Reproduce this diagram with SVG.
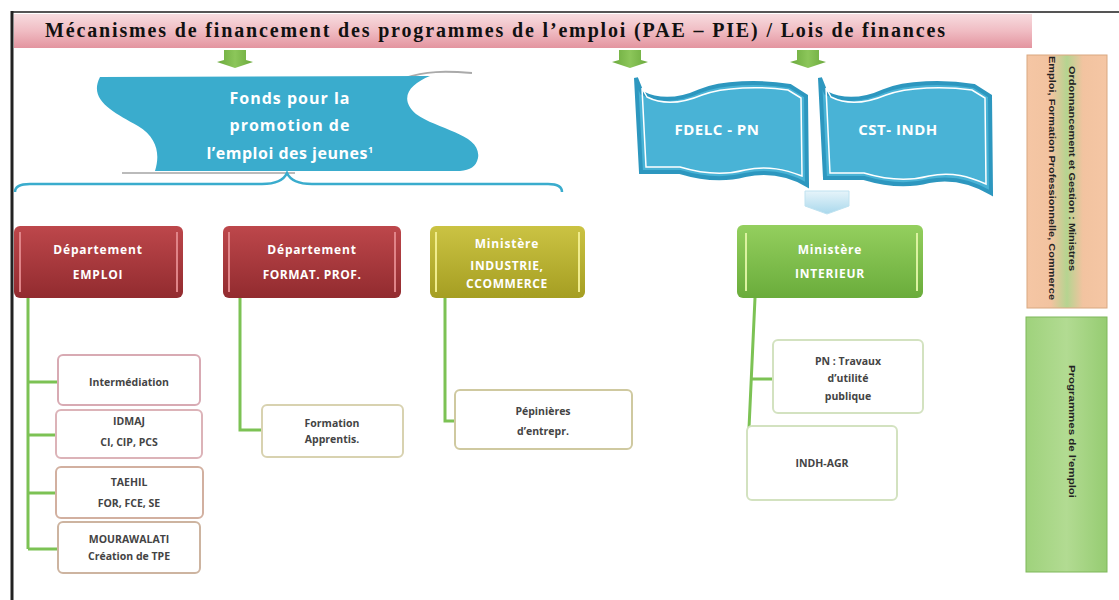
<svg xmlns="http://www.w3.org/2000/svg" width="1119" height="600" viewBox="0 0 1119 600">
<defs>
<linearGradient id="gTitle" x1="0" y1="0" x2="0" y2="1"><stop offset="0" stop-color="#f7dcdf"/><stop offset="0.5" stop-color="#f0bcc3"/><stop offset="1" stop-color="#e3949f"/></linearGradient>
<linearGradient id="gRed" x1="0" y1="0" x2="0" y2="1"><stop offset="0" stop-color="#bd474b"/><stop offset="1" stop-color="#922b2f"/></linearGradient>
<linearGradient id="gOlive" x1="0" y1="0" x2="0" y2="1"><stop offset="0" stop-color="#cbc343"/><stop offset="1" stop-color="#a59e22"/></linearGradient>
<linearGradient id="gGreen" x1="0" y1="0" x2="0" y2="1"><stop offset="0" stop-color="#94cf5e"/><stop offset="1" stop-color="#6aac3b"/></linearGradient>
<linearGradient id="gArrow" x1="0" y1="0" x2="1" y2="0"><stop offset="0" stop-color="#6aa93c"/><stop offset="0.5" stop-color="#8cc65a"/><stop offset="1" stop-color="#6aa93c"/></linearGradient>
<linearGradient id="gOrange" x1="0" y1="0" x2="1" y2="0"><stop offset="0" stop-color="#f5c6a4"/><stop offset="0.3" stop-color="#f2c3a0"/><stop offset="0.5" stop-color="#b5d490"/><stop offset="0.7" stop-color="#f2c3a0"/><stop offset="1" stop-color="#f5c6a4"/></linearGradient>
<linearGradient id="gSideGreen" x1="0" y1="0" x2="1" y2="0"><stop offset="0" stop-color="#9fd27c"/><stop offset="0.5" stop-color="#b2db92"/><stop offset="1" stop-color="#96cc72"/></linearGradient>
<linearGradient id="gChev" x1="0" y1="0" x2="0" y2="1"><stop offset="0" stop-color="#e6f4fa"/><stop offset="1" stop-color="#a9d8ec"/></linearGradient>
<style>
.title{font-family:"Liberation Serif",serif;font-weight:bold;font-size:20px;fill:#111}
.big{font-family:"Open Sans","Liberation Sans",sans-serif;font-weight:bold;fill:#fff;text-anchor:middle}
.dept{font-family:"Open Sans","Liberation Sans",sans-serif;font-weight:bold;font-size:12px;fill:#fff;text-anchor:middle}
.sub{font-family:"Open Sans","Liberation Sans",sans-serif;font-weight:bold;font-size:10.5px;fill:#444;text-anchor:middle}
.side{font-family:"Liberation Sans",sans-serif;font-weight:bold;font-size:9.5px;fill:#222}
.conn{fill:none;stroke:#7cc254;stroke-width:3}
.stripeR{stroke:#e08488;stroke-width:2}
.stripeO{stroke:#f0ec8c;stroke-width:2}
.stripeG{stroke:#dcf2a0;stroke-width:2}
.subbox{fill:#fff;stroke-width:2}
.flag{fill:#49b3d6;stroke:#2d97bf;stroke-width:4}
.flagIn{fill:none;stroke:#ffffff;stroke-width:1.5}
</style>
</defs>
<rect width="1119" height="600" fill="#fff"/>
<!-- frame -->
<line x1="12" y1="12" x2="1119" y2="12" stroke="#555" stroke-width="2"/>
<line x1="12" y1="11" x2="12" y2="600" stroke="#222" stroke-width="3"/>

<g id="title">
<rect x="14" y="14" width="1018" height="34" fill="url(#gTitle)"/>
<text class="title" x="45" y="37" textLength="900" lengthAdjust="spacing">Mécanismes de financement des programmes de l’emploi (PAE – PIE) / Lois de finances</text>
</g>

<g id="arrows">
<polygon points="224,50 246,50 246,60 253,62 235,68 217,62 224,60" fill="url(#gArrow)"/>
<polygon points="619,50 641,50 641,60 648,62 630,68 612,62 619,60" fill="url(#gArrow)"/>
<polygon points="797,50 819,50 819,60 826,62 808,68 790,62 797,60" fill="url(#gArrow)"/>
</g>

<g id="fonds">
<path d="M405,78 C425,71 445,71 472,73" fill="none" stroke="#aaa" stroke-width="2"/>
<path d="M100,77 L430,76 C410,84 398,98 416,114 C438,130 482,134 478,158 C476,167 470,170 460,171 L155,171 C160,155 158,138 138,126 C113,112 88,100 100,77 Z" fill="#3aaccd"/>
<path d="M122,173 L295,173" stroke="#bbb" stroke-width="2"/>
<text class="big" font-size="16" x="290" y="104" letter-spacing="1">Fonds pour la</text>
<text class="big" font-size="16" x="290" y="131" letter-spacing="1">promotion de</text>
<text class="big" font-size="16" x="290" y="159" letter-spacing="0.5">l’emploi des jeunes<tspan font-size="9" dy="-6">1</tspan></text>
<path d="M15,192 Q15,184 30,184 L262,184 Q282,184 287,173 Q292,184 312,184 L548,184 Q562,184 562,192" fill="none" stroke="#3aaccd" stroke-width="2.5"/>
</g>

<g id="fdelc">
<path class="flag" d="M636,78 L642,93 C660,102 680,100 700,91 C722,82 760,81 790,86 L806,96 L807,185 C790,175 770,170 745,175 C722,181 700,178 680,172 L641,172 Z"/>
<path class="flagIn" d="M642,88 L647,97 C663,105 683,103 702,95 C724,87 760,86 788,90 L801,98 L802,176 C786,170 768,165 745,170 C722,176 700,173 680,167 L646,167 Z"/>
<text class="big" font-size="15" x="717" y="135" letter-spacing="0.5">FDELC - PN</text>
</g>

<g id="cst">
<path class="flag" d="M820,78 L826,93 C844,102 864,100 884,91 C906,82 944,81 974,86 L990,96 L991,193 C974,183 954,176 929,181 C906,187 884,184 864,178 L825,178 Z"/>
<path class="flagIn" d="M826,88 L831,97 C847,105 867,103 886,95 C908,87 944,86 972,90 L985,98 L986,184 C970,177 952,171 929,176 C906,182 884,179 864,173 L830,173 Z"/>
<text class="big" font-size="15" x="898" y="135" letter-spacing="0.5">CST- INDH</text>
</g>

<g id="chevron">
<polygon points="805,191 849,191 849,206 827,214 805,206" fill="url(#gChev)" stroke="#bfe2f0" stroke-width="1"/>
</g>

<g id="side-orange">
<rect x="1027" y="55" width="80" height="253" fill="url(#gOrange)"/>
<rect x="1027" y="55" width="80" height="253" fill="none" stroke="#d9a880" stroke-width="1"/>
<text class="side" transform="translate(1069,66) rotate(90)" textLength="205" lengthAdjust="spacingAndGlyphs">Ordonnancement et Gestion : Ministres</text>
<text class="side" transform="translate(1049,56) rotate(90)" textLength="244" lengthAdjust="spacingAndGlyphs">Emploi, Formation Professionnelle, Commerce</text>
</g>

<g id="side-green">
<rect x="1026" y="317" width="81" height="255" fill="url(#gSideGreen)" stroke="#7fb85a" stroke-width="1"/>
<text class="side" transform="translate(1069,365) rotate(90)" textLength="133" lengthAdjust="spacingAndGlyphs">Programmes de l’emploi</text>
</g>

<g id="connectors">
<path class="conn" d="M28,298 L28,549 M28,382 L58,382 M28,435 L56,435 M28,493 L57,493 M28,549 L58,549"/>
<path class="conn" d="M240,298 L240,430 L262,430"/>
<path class="conn" d="M445,298 L445,421 L455,421"/>
<path class="conn" d="M755,298 L749,428 M752,379 L773,379"/>
</g>

<g id="dept-emploi">
<rect x="14" y="226" width="169" height="72" rx="6" fill="url(#gRed)"/>
<line class="stripeR" x1="20" y1="232" x2="20" y2="292"/><line class="stripeR" x1="177" y1="232" x2="177" y2="292"/>
<text class="dept" x="98" y="254" letter-spacing="0.8">Département</text>
<text class="dept" x="98" y="279" letter-spacing="0.8">EMPLOI</text>
</g>
<g id="dept-format">
<rect x="223" y="226" width="178" height="72" rx="6" fill="url(#gRed)"/>
<line class="stripeR" x1="229" y1="232" x2="229" y2="292"/><line class="stripeR" x1="395" y1="232" x2="395" y2="292"/>
<text class="dept" x="312" y="254" letter-spacing="0.8">Département</text>
<text class="dept" x="312" y="279" letter-spacing="0.5">FORMAT. PROF.</text>
</g>
<g id="min-industrie">
<rect x="430" y="226" width="155" height="72" rx="6" fill="url(#gOlive)"/>
<line class="stripeO" x1="436" y1="232" x2="436" y2="292"/><line class="stripeO" x1="579" y1="232" x2="579" y2="292"/>
<text class="dept" x="507" y="248" letter-spacing="0.8">Ministère</text>
<text class="dept" x="507" y="270" letter-spacing="0.6">INDUSTRIE,</text>
<text class="dept" x="507" y="288" letter-spacing="0.6">CCOMMERCE</text>
</g>
<g id="min-interieur">
<rect x="737" y="225" width="186" height="73" rx="6" fill="url(#gGreen)"/>
<line class="stripeG" x1="746" y1="233" x2="746" y2="291"/><line class="stripeG" x1="917" y1="233" x2="917" y2="291"/>
<text class="dept" x="830" y="254" letter-spacing="0.8">Ministère</text>
<text class="dept" x="830" y="278" letter-spacing="0.8">INTERIEUR</text>
</g>

<g id="intermediation">
<rect class="subbox" x="58" y="355" width="142" height="50" rx="5" stroke="#d8aab3"/>
<text class="sub" x="129" y="386">Intermédiation</text>
</g>
<g id="idmaj">
<rect class="subbox" x="56" y="410" width="146" height="48" rx="5" stroke="#dcb3b8"/>
<text class="sub" x="129" y="425">IDMAJ</text>
<text class="sub" x="129" y="446">CI, CIP, PCS</text>
</g>
<g id="taehil">
<rect class="subbox" x="56" y="467" width="147" height="51" rx="5" stroke="#d2b0a0"/>
<text class="sub" x="129" y="486">TAEHIL</text>
<text class="sub" x="129" y="507">FOR, FCE, SE</text>
</g>
<g id="mourawalati">
<rect class="subbox" x="58" y="522" width="142" height="51" rx="5" stroke="#cdb4a0"/>
<text class="sub" x="129" y="543">MOURAWALATI</text>
<text class="sub" x="129" y="560">Création de TPE</text>
</g>
<g id="formation">
<rect class="subbox" x="262" y="405" width="141" height="52" rx="5" stroke="#d8d2b0"/>
<text class="sub" x="332" y="427">Formation</text>
<text class="sub" x="332" y="443">Apprentis.</text>
</g>
<g id="pepinieres">
<rect class="subbox" x="455" y="390" width="177" height="59" rx="5" stroke="#cfc9a0"/>
<text class="sub" x="543" y="415">Pépinières</text>
<text class="sub" x="543" y="435">d’entrepr.</text>
</g>
<g id="pn">
<rect class="subbox" x="773" y="340" width="150" height="73" rx="5" stroke="#d3e2c0"/>
<text class="sub" x="848" y="365">PN : Travaux</text>
<text class="sub" x="848" y="382">d’utilité</text>
<text class="sub" x="848" y="400">publique</text>
</g>
<g id="indh-agr">
<rect class="subbox" x="747" y="426" width="150" height="74" rx="5" stroke="#d3e2c0"/>
<text class="sub" x="822" y="467">INDH-AGR</text>
</g>
</svg>
